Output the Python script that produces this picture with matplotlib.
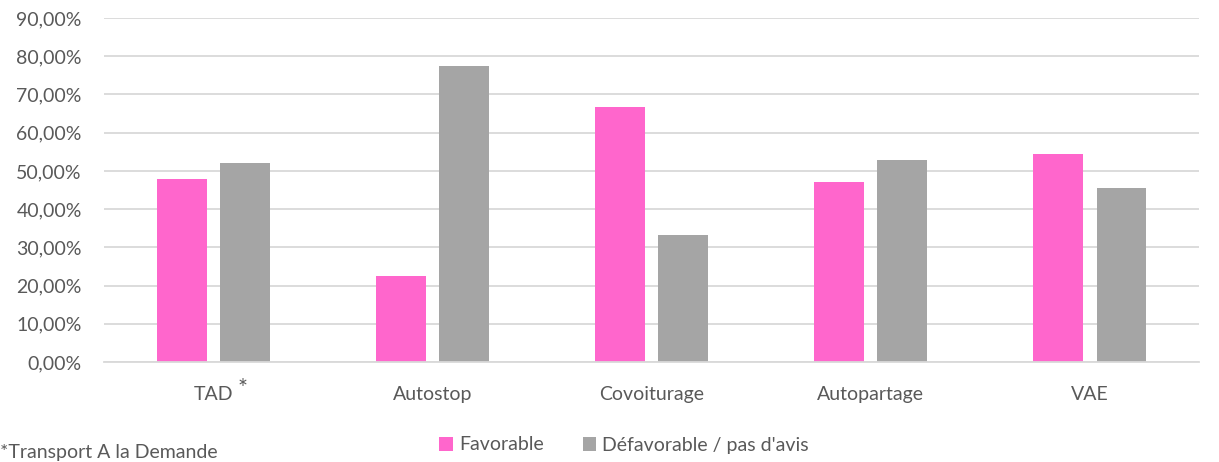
import numpy as np
import matplotlib.pyplot as plt
from matplotlib.ticker import FuncFormatter

categories = ['TAD', 'Autostop', 'Covoiturage', 'Autopartage', 'VAE']
favorable = [47.9, 22.6, 66.67, 47.2, 54.35]
defavorable = [52.1, 77.4, 33.33, 52.8, 45.65]
series_names = ['Favorable', "Défavorable / pas d'avis"]
footnote = '*Transport A la Demande'

plt.rcParams['font.family'] = ['Lato', 'DejaVu Sans']
text_color = '#595959'
fs = 14

fig = plt.figure(figsize=(12.19, 4.62), dpi=100)
ax = fig.add_axes([0.0853, 0.2165, 0.8987, 0.7445])

x = np.arange(len(categories))
width = 0.228
off = 0.144
ax.bar(x - off, favorable, width, color='#FF66CC', label=series_names[0], zorder=2)
ax.bar(x + off, defavorable, width, color='#A5A5A5', label=series_names[1], zorder=2)

ax.set_xlim(-0.5, len(categories) - 0.5)
ax.set_ylim(0, 90)
ax.set_yticks(np.arange(0, 91, 10))
ax.yaxis.set_major_formatter(FuncFormatter(lambda v, p: f'{v:.2f}'.replace('.', ',') + '%'))
ax.grid(axis='y', color='#d9d9d9', linewidth=1.3, zorder=0)
ax.set_axisbelow(True)

for s in ['top', 'right', 'left']:
    ax.spines[s].set_visible(False)
ax.spines['bottom'].set_color('#d9d9d9')
ax.spines['bottom'].set_linewidth(1.3)

ax.set_xticks(x)
ax.set_xticklabels(categories)
ax.tick_params(axis='x', length=0, pad=17, labelsize=fs, labelcolor=text_color)
ax.tick_params(axis='y', length=0, pad=16, labelsize=fs, labelcolor=text_color)

# asterisk next to TAD
ax.annotate('*', xy=(0, 0), xycoords=('data', 'axes fraction'), xytext=(17.5, -19),
            textcoords='offset points', ha='left', va='center', fontsize=17, color=text_color)

fig.legend(loc='center', bbox_to_anchor=(624 / 1219, 1 - 445 / 462), ncol=2, frameon=False,
           fontsize=fs, labelcolor=text_color, handlelength=0.7, handleheight=0.7,
           handletextpad=0.3, columnspacing=2.0)

fig.text(0.0, 1 - 444 / 462, footnote, ha='left', va='top', fontsize=fs, color=text_color)

fig.savefig('out.png', dpi=100)
